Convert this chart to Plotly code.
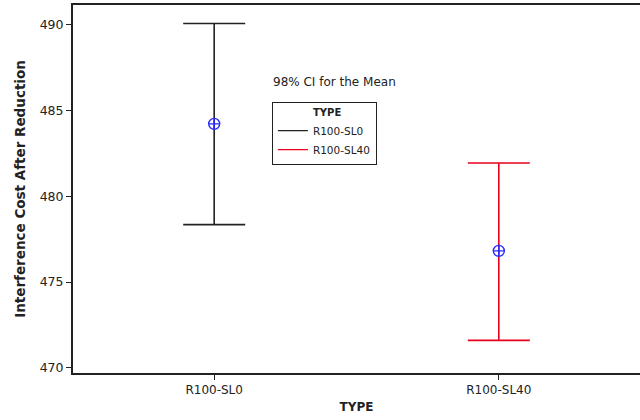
import plotly.graph_objects as go

categories = ["R100-SL0", "R100-SL40"]
means = [484.23, 476.82]
upper = [490.08, 481.95]
lower = [478.35, 471.6]
colors = ["#222222", "#e8001c"]
y_ticks = [470, 475, 480, 485, 490]

FONT = "DejaVu Sans, Verdana, Arial"
xpos = [1, 2]
fig = go.Figure()
for i, cat in enumerate(categories):
    fig.add_trace(go.Scatter(
        x=[xpos[i]], y=[means[i]], mode="markers",
        marker=dict(symbol="circle-cross-open", size=11, color="#2a2aff",
                    line=dict(width=1.4, color="#2a2aff")),
        error_y=dict(type="data", symmetric=False,
                     array=[upper[i] - means[i]], arrayminus=[means[i] - lower[i]],
                     color=colors[i], thickness=1.6, width=31),
        showlegend=False, hoverinfo="skip"))
    fig.add_trace(go.Scatter(x=[None], y=[None], mode="lines",
                             line=dict(color=colors[i], width=1.4),
                             name=cat, showlegend=True))

fig.add_annotation(text="98% CI for the Mean", xref="paper", yref="paper",
                   x=(334 - 72.7) / 567.3, y=1 - (73 - 5) / 368.5,
                   showarrow=False, font=dict(size=12, family=FONT, color="#222"))

fig.update_layout(
    width=640, height=420,
    margin=dict(l=72.7, r=0, t=5, b=46.5),
    paper_bgcolor="white", plot_bgcolor="white",
    font=dict(family=FONT, color="#222"),
    xaxis=dict(range=[0.504, 2.496], tickvals=xpos, ticktext=categories,
               showline=True, linecolor="#222", linewidth=2, mirror=True,
               ticks="outside", ticklen=5, tickcolor="#222",
               showgrid=False, zeroline=False,
               tickfont=dict(size=12, family=FONT),
               title=dict(text="<b>TYPE</b>", font=dict(size=12, family=FONT), standoff=6)),
    yaxis=dict(range=[469.7, 491.16], tickvals=y_ticks,
               showline=True, linecolor="#222", linewidth=2, mirror=False,
               ticks="outside", ticklen=5, tickcolor="#222",
               showgrid=False, zeroline=False,
               tickfont=dict(size=12.5, family=FONT),
               title=dict(text="<b>Interference Cost After Reduction</b>", font=dict(size=13.5, family=FONT), standoff=11)),
    legend=dict(x=(271.7 - 72.7) / 567.3, y=1 - (102.3 - 5) / 368.5, xanchor="left", yanchor="top",
                bordercolor="#222", borderwidth=1, bgcolor="white",
                font=dict(size=10.5, family=FONT),
                title=dict(text="&nbsp;" * 12 + "<b>TYPE</b>", font=dict(size=10, family=FONT)),
                tracegroupgap=0, itemwidth=30),
)

fig.write_html("out.html")
